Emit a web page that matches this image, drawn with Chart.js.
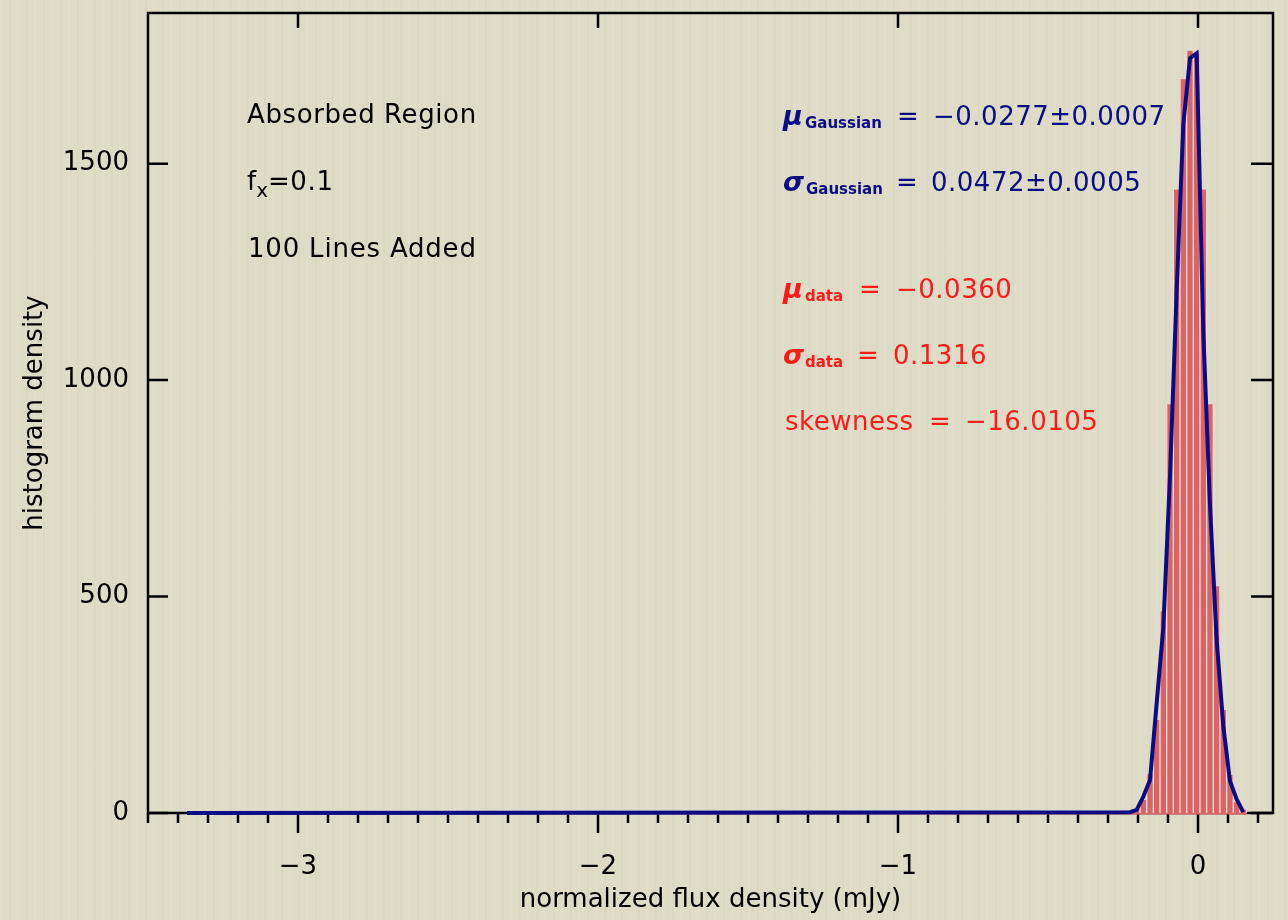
<!DOCTYPE html>
<html><head><meta charset="utf-8">
<script src="https://cdn.jsdelivr.net/npm/chart.js@4.4.1/dist/chart.umd.min.js"></script>
<style>
html,body{margin:0;padding:0;}
body{background:
 repeating-linear-gradient(90deg, rgba(255,255,255,0.07) 0px, rgba(255,255,255,0.07) 2px, rgba(0,0,0,0) 2px, rgba(0,0,0,0) 9px, rgba(120,110,80,0.035) 9px, rgba(120,110,80,0.035) 11px, rgba(0,0,0,0) 11px, rgba(0,0,0,0) 17px),
 #dedcc7;}
#wrap{position:relative;width:1288px;height:920px;}
canvas{display:block;}
</style></head><body>
<div id="wrap"><canvas id="c" width="1288" height="920"></canvas></div>
<script>
// ---- data ----
const binCenters = [-0.5151, -0.2487, -0.2265, -0.2043, -0.1821, -0.1599, -0.1377, -0.1155, -0.0933, -0.0711, -0.0489, -0.0267, -0.0045, 0.0177, 0.0399, 0.0621, 0.0843, 0.1065, 0.1287, 0.1509];
const histCounts = [4, 5, 5, 10, 30, 90, 215, 466, 944, 1440, 1695, 1761, 1755, 1440, 944, 524, 238, 88, 25, 8];
const histRange = [-3.37, 0.162];
const gaussX = [-3.37, -0.2265, -0.2043, -0.1821, -0.1599, -0.1377, -0.1155, -0.0933, -0.0711, -0.0489, -0.0267, -0.0045, 0.0177, 0.0399, 0.0621, 0.0843, 0.1065, 0.1287, 0.1509];
const gaussY = [0, 2, 7, 38, 76, 254, 430, 778, 1206, 1591, 1744, 1755, 1111, 713, 400, 201, 74, 32, 2];
const xTickValues = [-3, -2, -1, 0];
const yTickValues = [0, 500, 1000, 1500];
const xRange = [-3.5, 0.25];
const yRange = [0, 1848];

const FONT = '"DejaVu Sans", sans-serif';
const BLUE = '#0b0b86';
const RED = '#ff1a1a';
const BAR = '#d86464';
const BAR_GAP = '#f9d9d5';

const framePlugin = {
  id: 'frame',
  beforeDatasetsDraw(chart) {
    const {ctx, chartArea: a, scales: {x, y}} = chart;
    ctx.save();
    ctx.strokeStyle = '#000';
    ctx.lineWidth = 2.5;
    ctx.beginPath();
    ctx.rect(a.left, a.top, a.right - a.left, a.bottom - a.top);
    ctx.stroke();
    ctx.beginPath();
    for (let i = Math.ceil(xRange[0] * 10); i <= Math.floor(xRange[1] * 10); i++) {
      const px = x.getPixelForValue(i / 10);
      const major = i % 10 === 0;
      ctx.moveTo(px, a.bottom);
      ctx.lineTo(px, a.bottom + (major ? 20 : 10));
      if (major) { ctx.moveTo(px, a.top); ctx.lineTo(px, a.top + 15); }
    }
    for (const v of yTickValues) {
      const py = y.getPixelForValue(v);
      ctx.moveTo(a.left, py); ctx.lineTo(a.left + 20, py);
      ctx.moveTo(a.right, py); ctx.lineTo(a.right - 22, py);
    }
    ctx.stroke();
    ctx.restore();
  }
};

function drawRich(ctx, x, y, parts, color) {
  ctx.save();
  ctx.fillStyle = color;
  ctx.textBaseline = 'alphabetic';
  for (const p of parts) {
    ctx.font = p.font;
    ctx.letterSpacing = p.ls || '0px';
    const xx = p.x !== undefined ? p.x : x;
    ctx.fillText(p.t, xx, y + (p.dy || 0));
    x = xx + ctx.measureText(p.t).width;
  }
  ctx.restore();
}

const textPlugin = {
  id: 'texts',
  afterDraw(chart) {
    const ctx = chart.ctx;
    const F = '26px ' + FONT;
    const G = 'bold italic 27px ' + FONT;
    const S = 'bold 15px ' + FONT;
    drawRich(ctx, 247, 123, [{t: 'Absorbed Region', font: F, ls: '0.6px'}], '#000');
    drawRich(ctx, 247, 190, [{t: 'f', font: F}, {t: 'x', font: '20px ' + FONT, dy: 7}, {t: '=0.1', font: F, ls: '0.6px'}], '#000');
    drawRich(ctx, 248, 257, [{t: '100 Lines Added', font: F, ls: '0.8px'}], '#000');
    drawRich(ctx, 783, 125, [{t: 'μ', font: G}, {t: 'Gaussian', font: S, dy: 3, x: 805}, {t: '=', font: F, x: 897}, {t: '−0.0277±0.0007', font: F, x: 933, ls: '0.5px'}], BLUE);
    drawRich(ctx, 783, 191, [{t: 'σ', font: G}, {t: 'Gaussian', font: S, dy: 3, x: 806}, {t: '=', font: F, x: 896}, {t: '0.0472±0.0005', font: F, x: 931, ls: '0.5px'}], BLUE);
    drawRich(ctx, 783, 298, [{t: 'μ', font: G}, {t: 'data', font: S, dy: 3, x: 805}, {t: '=', font: F, x: 859}, {t: '−0.0360', font: F, x: 896, ls: '0.5px'}], RED);
    drawRich(ctx, 783, 364, [{t: 'σ', font: G}, {t: 'data', font: S, dy: 3, x: 805}, {t: '=', font: F, x: 857}, {t: '0.1316', font: F, x: 893, ls: '0.5px'}], RED);
    drawRich(ctx, 785, 430, [{t: 'skewness', font: F, ls: '0.5px'}, {t: '=', font: F, x: 929}, {t: '−16.0105', font: F, x: 965, ls: '0.5px'}], RED);
  }
};

const minus = v => (v < 0 ? '−' + Math.abs(v) : String(v));

new Chart(document.getElementById('c'), {
  type: 'bar',
  data: {
    datasets: [
      {
        type: 'line', label: 'Gaussian fit',
        data: gaussX.map((x, i) => ({x, y: gaussY[i]})),
        borderColor: BLUE, borderWidth: 4, pointRadius: 0, tension: 0,
        borderJoinStyle: 'miter', clip: false, order: 0
      },
      {
        type: 'bar', label: 'histogram',
        data: binCenters.map((x, i) => ({x, y: histCounts[i]})),
        backgroundColor: BAR, borderColor: BAR_GAP,
        borderWidth: {left: 1, right: 1, top: 0, bottom: 0},
        barPercentage: 1, categoryPercentage: 1, order: 1
      },
      {
        type: 'line', label: 'histogram extent',
        data: histRange.map(x => ({x, y: 0})),
        borderColor: BAR, borderWidth: 3, pointRadius: 0, clip: false, order: 2
      }
    ]
  },
  options: {
    responsive: false, animation: false, devicePixelRatio: 1,
    layout: {padding: {top: 13, right: 15, left: 0, bottom: 0}},
    plugins: {legend: {display: false}, tooltip: {enabled: false}},
    scales: {
      x: {
        type: 'linear', min: xRange[0], max: xRange[1], offset: false,
        grid: {display: false}, border: {display: false},
        afterBuildTicks: s => { s.ticks = xTickValues.map(v => ({value: v})); },
        afterFit: s => { s.height = 107; s.paddingLeft = 0; s.paddingRight = 0; },
        ticks: {color: '#000', font: {family: FONT, size: 26}, padding: 31, callback: v => minus(v), maxRotation: 0},
        title: {display: true, text: 'normalized flux density (mJy)', color: '#000', font: {family: FONT, size: 26}, padding: {top: 0, bottom: 4}}
      },
      y: {
        type: 'linear', min: yRange[0], max: yRange[1],
        grid: {display: false}, border: {display: false},
        afterBuildTicks: s => { s.ticks = yTickValues.map(v => ({value: v})); },
        afterFit: s => { s.width = 148; s.paddingTop = 0; s.paddingBottom = 0; },
        ticks: {color: '#000', font: {family: FONT, size: 26}, padding: 11, callback: v => String(v)},
        title: {display: true, text: 'histogram density', color: '#000', font: {family: FONT, size: 26}, padding: {top: 20, bottom: 0}}
      }
    }
  },
  plugins: [framePlugin, textPlugin]
});
</script>
</body></html>
